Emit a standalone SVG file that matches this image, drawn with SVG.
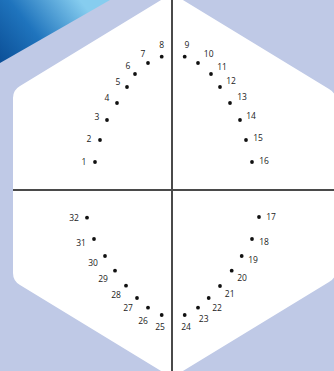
<svg xmlns="http://www.w3.org/2000/svg" width="334" height="371" viewBox="0 0 334 371">
<defs>
<linearGradient id="bg1" x1="0" y1="63" x2="80" y2="0" gradientUnits="userSpaceOnUse">
<stop offset="0" stop-color="#0b4f97"/>
<stop offset="0.45" stop-color="#1f74bd"/>
<stop offset="1" stop-color="#86cdef"/>
</linearGradient>
<style>
.d{fill:#111}
.l{font-family:"Open Sans","Liberation Sans",sans-serif;font-size:8.5px;fill:#222;text-anchor:middle}
.ax{stroke:#4a4a4a;stroke-width:2;fill:none}
</style>
</defs>
<rect width="334" height="371" fill="#bfc9e6"/>
<path d="M0,0 L110,0 L0,63 Z" fill="url(#bg1)"/>
<path d="M166,-3 Q172,-6 178,-3 L329,89 Q336,93 336,101 L336,270 Q336,278 329,282 L178,374 Q172,377 166,374 L20,285 Q13,281 13,273 L13,98 Q13,90 20,86 Z" fill="#ffffff"/>
<g id="connectors">
<line class="ax" x1="172" y1="0" x2="172" y2="371"/>
<line class="ax" x1="13" y1="190" x2="334" y2="190"/>
</g>
<g id="t1"><circle class="d" cx="95" cy="162" r="1.9"/><text class="l" x="84" y="165">1</text></g>
<g id="t2"><circle class="d" cx="100" cy="140" r="1.9"/><text class="l" x="89" y="142">2</text></g>
<g id="t3"><circle class="d" cx="107" cy="120" r="1.9"/><text class="l" x="97" y="120">3</text></g>
<g id="t4"><circle class="d" cx="117" cy="103" r="1.9"/><text class="l" x="107" y="101">4</text></g>
<g id="t5"><circle class="d" cx="127" cy="87" r="1.9"/><text class="l" x="118" y="85">5</text></g>
<g id="t6"><circle class="d" cx="135" cy="74" r="1.9"/><text class="l" x="128" y="69">6</text></g>
<g id="t7"><circle class="d" cx="148" cy="63" r="1.9"/><text class="l" x="143" y="57">7</text></g>
<g id="t8"><circle class="d" cx="161.7" cy="56.7" r="1.9"/><text class="l" x="161.7" y="48">8</text></g>
<g id="t9"><circle class="d" cx="184.7" cy="56.7" r="1.9"/><text class="l" x="187" y="48">9</text></g>
<g id="t10"><circle class="d" cx="198" cy="63" r="1.9"/><text class="l" x="208.7" y="57">10</text></g>
<g id="t11"><circle class="d" cx="211" cy="74" r="1.9"/><text class="l" x="222" y="70">11</text></g>
<g id="t12"><circle class="d" cx="220" cy="87" r="1.9"/><text class="l" x="231" y="84">12</text></g>
<g id="t13"><circle class="d" cx="230" cy="103" r="1.9"/><text class="l" x="242" y="100">13</text></g>
<g id="t14"><circle class="d" cx="240" cy="120" r="1.9"/><text class="l" x="251" y="119">14</text></g>
<g id="t15"><circle class="d" cx="246" cy="140" r="1.9"/><text class="l" x="258" y="141">15</text></g>
<g id="t16"><circle class="d" cx="252" cy="162" r="1.9"/><text class="l" x="264" y="164">16</text></g>
<g id="t17"><circle class="d" cx="259" cy="217" r="1.9"/><text class="l" x="271" y="220">17</text></g>
<g id="t18"><circle class="d" cx="252" cy="239" r="1.9"/><text class="l" x="264" y="245">18</text></g>
<g id="t19"><circle class="d" cx="241.7" cy="256" r="1.9"/><text class="l" x="253" y="263">19</text></g>
<g id="t20"><circle class="d" cx="231.7" cy="270.7" r="1.9"/><text class="l" x="242" y="281">20</text></g>
<g id="t21"><circle class="d" cx="220" cy="286" r="1.9"/><text class="l" x="229.7" y="297">21</text></g>
<g id="t22"><circle class="d" cx="208.7" cy="298" r="1.9"/><text class="l" x="217" y="311">22</text></g>
<g id="t23"><circle class="d" cx="198" cy="307.7" r="1.9"/><text class="l" x="203.7" y="322">23</text></g>
<g id="t24"><circle class="d" cx="184.7" cy="315" r="1.9"/><text class="l" x="186" y="330">24</text></g>
<g id="t25"><circle class="d" cx="161.7" cy="315" r="1.9"/><text class="l" x="160" y="330">25</text></g>
<g id="t26"><circle class="d" cx="148" cy="307.7" r="1.9"/><text class="l" x="143" y="323.7">26</text></g>
<g id="t27"><circle class="d" cx="137" cy="298" r="1.9"/><text class="l" x="128" y="311">27</text></g>
<g id="t28"><circle class="d" cx="126" cy="285.7" r="1.9"/><text class="l" x="116" y="297.7">28</text></g>
<g id="t29"><circle class="d" cx="115" cy="270.7" r="1.9"/><text class="l" x="103" y="282">29</text></g>
<g id="t30"><circle class="d" cx="105" cy="256" r="1.9"/><text class="l" x="93" y="265.7">30</text></g>
<g id="t31"><circle class="d" cx="94" cy="239" r="1.9"/><text class="l" x="81" y="245.7">31</text></g>
<g id="t32"><circle class="d" cx="87" cy="217.7" r="1.9"/><text class="l" x="74" y="220.7">32</text></g>
</svg>
